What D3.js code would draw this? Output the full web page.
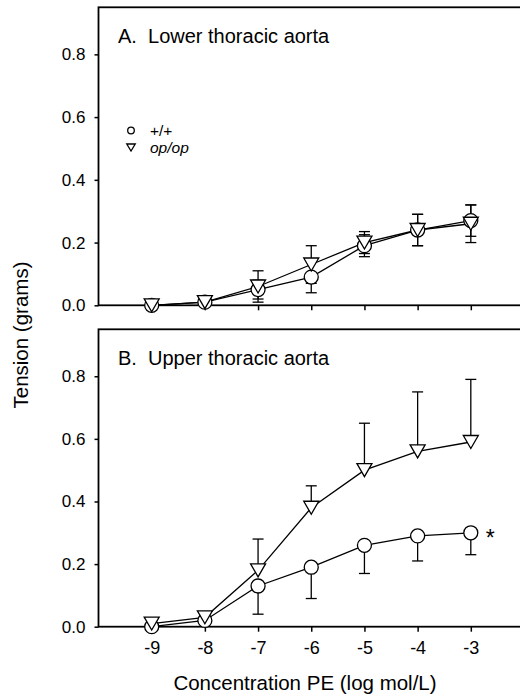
<!DOCTYPE html>
<html lang="en">
<head>
<meta charset="UTF-8">
<title>Tension vs PE concentration</title>
<script src="https://cdn.jsdelivr.net/npm/d3@7"></script>
<style>
  body { margin: 0; background: #fff; }
  text { font-family: "Liberation Sans", Arial, sans-serif; fill: #000; }
</style>
</head>
<body>
<script>
// data (tension in grams)
var concentrations = [-9, -8, -7, -6, -5, -4, -3];
var yTicks = [0, 0.2, 0.4, 0.6, 0.8];

// A. lower thoracic aorta (error bars both ways)
var lowerWT    = [0.00, 0.01, 0.05, 0.09, 0.19, 0.24, 0.27];
var lowerWTErr = [0.00, 0.00, 0.03, 0.05, 0.035, 0.05, 0.05];
var lowerOp    = [0.00, 0.01, 0.06, 0.13, 0.20, 0.24, 0.26];
var lowerOpErr = [0.00, 0.00, 0.05, 0.06, 0.035, 0.05, 0.06];

// B. upper thoracic aorta (circles down, triangles up)
var upperWT    = [0.00, 0.02, 0.13, 0.19, 0.26, 0.29, 0.30];
var upperWTErr = [0.00, 0.00, 0.09, 0.10, 0.09, 0.08, 0.07];
var upperOp    = [0.01, 0.03, 0.18, 0.38, 0.50, 0.56, 0.59];
var upperOpErr = [0.00, 0.00, 0.10, 0.07, 0.15, 0.19, 0.20];

var width = 520, height = 695;
var svg = d3.select("body").append("svg").attr("width", width).attr("height", height);

var x = d3.scaleLinear().domain([-10, -2]).range([98.5, 524]);

var panels = [
  { top: 7.3, bottom: 305.3, title: "A.  Lower thoracic aorta", labels: false,
    series: [
      { shape: "circle", vals: lowerWT, errs: lowerWTErr, up: true, down: true },
      { shape: "tri", vals: lowerOp, errs: lowerOpErr, up: true, down: true }
    ] },
  { top: 329.3, bottom: 626.7, title: "B.  Upper thoracic aorta", labels: true,
    series: [
      { shape: "circle", vals: upperWT, errs: upperWTErr, up: false, down: true },
      { shape: "tri", vals: upperOp, errs: upperOpErr, up: true, down: false }
    ] }
];

var triPath = function(w, h) {
  return "M" + (-w / 2) + "," + (-h / 2) + "L" + (w / 2) + "," + (-h / 2) + "L0," + (h / 2) + "Z";
};

function drawMarker(g, shape, cx, cy, small) {
  if (shape == "circle") {
    g.append("circle").attr("cx", cx).attr("cy", cy).attr("r", small ? 3.3 : 7)
      .attr("fill", "#fff").attr("stroke", "#000").attr("stroke-width", 1.3);
  } else {
    g.append("path").attr("d", small ? triPath(8.5, 7) : triPath(15, 13))
      .attr("transform", "translate(" + cx + "," + cy + ")")
      .attr("fill", "#fff").attr("stroke", "#000").attr("stroke-width", 1.3);
  }
}

// plain hyphen for negative tick labels, like the original
var hyphenFormat = function(d) { return String(d); };

panels.forEach(function(p) {
  var y = d3.scaleLinear().domain([0, 0.95]).range([p.bottom, p.top]);
  var g = svg.append("g");

  // frame
  g.append("rect").attr("x", x(-10)).attr("y", p.top)
    .attr("width", x(-2) - x(-10)).attr("height", p.bottom - p.top)
    .attr("fill", "none").attr("stroke", "#000").attr("stroke-width", 1.8);

  var yAxis = g.append("g").attr("transform", "translate(" + x(-10) + ",0)")
    .call(d3.axisLeft(y).tickValues(yTicks).tickFormat(d3.format(".1f")).tickSize(4).tickPadding(9));
  yAxis.select(".domain").remove();
  yAxis.selectAll("line").attr("stroke-width", 1.5);
  yAxis.selectAll("text").attr("font-size", 17).attr("font-family", null);

  var xAxis = g.append("g").attr("transform", "translate(0," + p.bottom + ")")
    .call(d3.axisBottom(x).tickValues(concentrations).tickSize(5).tickPadding(9.5)
      .tickFormat(p.labels ? hyphenFormat : ""));
  xAxis.select(".domain").remove();
  xAxis.selectAll("line").attr("stroke-width", 1.5);
  xAxis.selectAll("text").attr("font-size", 18).attr("font-family", null);

  g.append("text").attr("x", 118).attr("y", p.top + 35.5)
    .attr("font-size", 20).style("white-space", "pre").text(p.title);

  var line = d3.line().x(function(d, i) { return x(concentrations[i]); }).y(function(d) { return y(d); });

  p.series.forEach(function(s) {
    var eb = g.append("g").attr("stroke", "#000").attr("stroke-width", 1.3);
    s.vals.forEach(function(v, i) {
      if (s.errs[i] <= 0) return;
      var cx = x(concentrations[i]);
      var ends = [];
      if (s.up) ends.push(v + s.errs[i]);
      if (s.down) ends.push(v - s.errs[i]);
      ends.forEach(function(e) {
        eb.append("line").attr("x1", cx).attr("x2", cx).attr("y1", y(v)).attr("y2", y(e));
        eb.append("line").attr("x1", cx - 5.5).attr("x2", cx + 5.5).attr("y1", y(e)).attr("y2", y(e));
      });
    });
  });

  p.series.forEach(function(s) {
    g.append("path").datum(s.vals).attr("d", line)
      .attr("fill", "none").attr("stroke", "#000").attr("stroke-width", 1.3);
  });

  p.series.forEach(function(s) {
    var mg = g.append("g");
    s.vals.forEach(function(v, i) {
      drawMarker(mg, s.shape, x(concentrations[i]), y(v), false);
    });
  });

  p.y = y;
});

// legend in panel A
var legend = svg.append("g");
var legendItems = [
  { shape: "circle", label: "+/+", italic: false },
  { shape: "tri", label: "op/op", italic: true }
];
legendItems.forEach(function(d, i) {
  var ly = 130.5 + i * 17;
  drawMarker(legend, d.shape, 131, ly, true);
  legend.append("text").attr("x", 150).attr("y", ly + 5.5)
    .attr("font-size", 15.5).attr("font-style", d.italic ? "italic" : "normal").text(d.label);
});

// significance mark for panel B
svg.append("text").attr("x", x(-3) + 15).attr("y", panels[1].y(upperWT[6]) + 13)
  .attr("font-size", 23).text("*");

// axis titles
svg.append("text").attr("x", 305).attr("y", 690)
  .attr("text-anchor", "middle").attr("font-size", 20.5).text("Concentration PE (log mol/L)");
svg.append("text").attr("transform", "translate(28,335) rotate(-90)")
  .attr("text-anchor", "middle").attr("font-size", 20.5).text("Tension (grams)");
</script>
</body>
</html>
